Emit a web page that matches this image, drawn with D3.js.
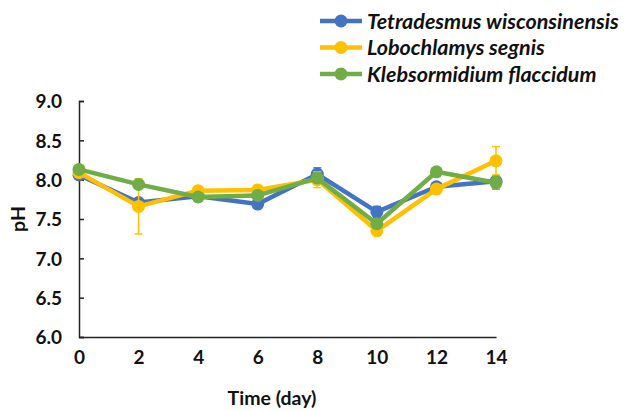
<!DOCTYPE html>
<html>
<head>
<meta charset="utf-8">
<script src="https://cdn.jsdelivr.net/npm/d3@7"></script>
<style>
  body { margin: 0; background: #fff; }
  svg { display: block; }
</style>
</head>
<body>
<div id="chart"></div>
<script>
// pH over time, three algae strains
const days = [0, 2, 4, 6, 8, 10, 12, 14];
const yTicks = [6.0, 6.5, 7.0, 7.5, 8.0, 8.5, 9.0];

const seriesNames = ['Tetradesmus wisconsinensis', 'Lobochlamys segnis', 'Klebsormidium flaccidum'];
const seriesColors = ['#4472C4', '#FFC000', '#70AD47'];

const tetradesmus = [8.06, 7.71, 7.79, 7.69, 8.07, 7.59, 7.91, 7.98];
const tetradesmusErr = [0.03, 0.03, 0.03, 0.05, 0.08, 0.07, 0.04, 0.06];
const lobochlamys = [8.09, 7.66, 7.86, 7.87, 8.00, 7.35, 7.88, 8.24];
const lobochlamysErr = [0.02, 0.35, 0.04, 0.03, 0.10, 0.03, 0.03, 0.18];
const klebsormidium = [8.13, 7.94, 7.78, 7.80, 8.02, 7.44, 8.10, 7.96];
const klebsormidiumErr = [0.02, 0.03, 0.02, 0.03, 0.05, 0.03, 0.02, 0.08];

const W = 630, H = 411;
const MARGIN = { top: 101, right: 134, bottom: 74, left: 79 };
const FONT = 'Lato, "Open Sans", sans-serif';

const series = [
  { name: seriesNames[0], color: seriesColors[0], values: tetradesmus, err: tetradesmusErr },
  { name: seriesNames[1], color: seriesColors[1], values: lobochlamys, err: lobochlamysErr },
  { name: seriesNames[2], color: seriesColors[2], values: klebsormidium, err: klebsormidiumErr }
];

const svg = d3.select('#chart').append('svg')
  .attr('width', W)
  .attr('height', H)
  .style('font-family', FONT);

const x = d3.scaleLinear().domain([0, 14]).range([MARGIN.left, W - MARGIN.right]);
const y = d3.scaleLinear().domain([6, 9]).range([H - MARGIN.bottom, MARGIN.top]);

// y axis: ticks pointing inward
const yAxis = svg.append('g')
  .attr('transform', `translate(${MARGIN.left},0)`)
  .call(d3.axisRight(y).tickValues(yTicks).tickSize(5).tickFormat(d3.format('.1f')));
yAxis.select('.domain').attr('stroke', '#222').attr('stroke-width', 1.5);
yAxis.selectAll('.tick line').attr('stroke', '#222').attr('stroke-width', 1.5);
yAxis.selectAll('.tick text')
  .attr('x', -17)
  .attr('text-anchor', 'end')
  .attr('dy', '0.36em')
  .style('font-size', '19px')
  .style('font-weight', 'bold')
  .style('font-family', FONT)
  .attr('fill', '#111');

// x axis: no ticks
const xAxis = svg.append('g')
  .attr('transform', `translate(0,${H - MARGIN.bottom})`)
  .call(d3.axisBottom(x).tickValues(days).tickSize(0).tickPadding(14));
xAxis.select('.domain').attr('stroke', '#222').attr('stroke-width', 1.5);
xAxis.selectAll('.tick text')
  .style('font-size', '19px')
  .style('font-weight', 'bold')
  .style('font-family', FONT)
  .attr('fill', '#111');

svg.append('text')
  .attr('x', 272)
  .attr('y', 405)
  .attr('text-anchor', 'middle')
  .style('font-size', '19.5px')
  .style('font-weight', 'bold')
  .attr('fill', '#111')
  .text('Time (day)');

svg.append('text')
  .attr('transform', `translate(25,${(y(6) + y(9)) / 2}) rotate(-90)`)
  .attr('text-anchor', 'middle')
  .style('font-size', '19.5px')
  .style('font-weight', 'bold')
  .attr('fill', '#111')
  .text('pH');

const line = d3.line().x((d, i) => x(days[i])).y(d => y(d));

series.forEach(s => {
  const g = svg.append('g');
  // error bars
  days.forEach((day, i) => {
    const cx = x(day);
    const lo = y(s.values[i] - s.err[i]);
    const hi = y(s.values[i] + s.err[i]);
    g.append('line').attr('x1', cx).attr('x2', cx).attr('y1', lo).attr('y2', hi)
      .attr('stroke', s.color).attr('stroke-width', 1.5);
    [lo, hi].forEach(yy => {
      g.append('line').attr('x1', cx - 4).attr('x2', cx + 4).attr('y1', yy).attr('y2', yy)
        .attr('stroke', s.color).attr('stroke-width', 1.5);
    });
  });
  g.append('path')
    .datum(s.values)
    .attr('d', line)
    .attr('fill', 'none')
    .attr('stroke', s.color)
    .attr('stroke-width', 4.5)
    .attr('stroke-linejoin', 'round');
  g.selectAll('circle')
    .data(s.values)
    .enter().append('circle')
    .attr('cx', (d, i) => x(days[i]))
    .attr('cy', d => y(d))
    .attr('r', 6.5)
    .attr('fill', s.color);
});

// legend
const legend = svg.append('g').attr('transform', 'translate(320,21)');
series.forEach((s, i) => {
  const row = legend.append('g').attr('transform', `translate(0,${i * 26.5})`);
  row.append('line').attr('x1', 0).attr('x2', 42).attr('y1', 0).attr('y2', 0)
    .attr('stroke', s.color).attr('stroke-width', 4.5);
  row.append('circle').attr('cx', 21).attr('cy', 0).attr('r', 6.5).attr('fill', s.color);
  row.append('text')
    .attr('x', 47)
    .attr('y', 0)
    .attr('dy', '0.36em')
    .style('font-size', '21.5px')
    .style('font-weight', 'bold')
    .style('font-style', 'italic')
    .attr('fill', '#111')
    .text(s.name);
});
</script>
</body>
</html>
